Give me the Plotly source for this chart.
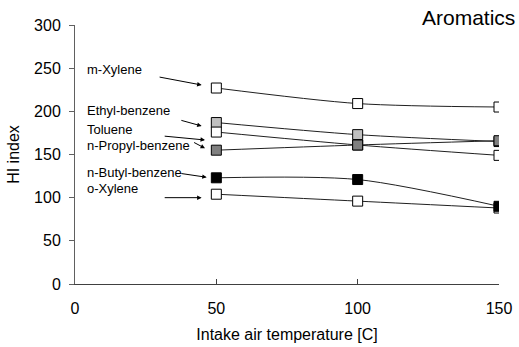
import plotly.graph_objects as go

temps = [50, 100, 150]
m_xylene = [227, 209, 205]
ethyl_benzene = [187, 173, 165]
toluene = [176, 161, 149]
o_xylene = [104, 96, 88]
n_propyl_benzene = [155, 161, 166]
n_butyl_benzene = [123, 121, 90]

series = [
    ("m-Xylene", m_xylene, "white"),
    ("Ethyl-benzene", ethyl_benzene, "#c0c0c0"),
    ("Toluene", toluene, "white"),
    ("o-Xylene", o_xylene, "white"),
    ("n-Propyl-benzene", n_propyl_benzene, "#808080"),
    ("n-Butyl-benzene", n_butyl_benzene, "black"),
]

FONT = "Liberation Sans, Arial, sans-serif"
fig = go.Figure()
for name, vals, col in series:
    fig.add_trace(go.Scatter(
        x=temps, y=vals, name=name, mode="lines+markers",
        line=dict(color="#202020", width=1, shape="spline", smoothing=0.8),
        marker=dict(symbol="square", size=10, color=col, line=dict(color="black", width=1)),
        showlegend=False,
    ))

# label text: (text, text_x, text_y, tail_x, tail_y, head_x, head_y)
labels = [
    ("m-Xylene", 3.5, 248, 29.4, 240, 44.8, 230.5),
    ("Ethyl-benzene", 3.5, 201.5, 37.1, 190, 44.8, 183),
    ("Toluene", 3.5, 179.5, 31.2, 171.4, 46.0, 166.8),
    ("n-Propyl-benzene", 3.5, 161, 41.6, 164.8, 46.0, 157.2),
    ("n-Butyl-benzene", 3.5, 129, 37.1, 128.2, 46.6, 123.6),
    ("o-Xylene", 3.5, 111, 31.2, 100, 44.8, 100),
]
for t, tx, ty, ax_, ay_, hx, hy in labels:
    fig.add_annotation(x=tx, y=ty, text=t, showarrow=False, xanchor="left", yanchor="middle",
                       font=dict(size=13, color="black", family=FONT))
    fig.add_annotation(x=hx, y=hy, ax=ax_, ay=ay_, xref="x", yref="y", axref="x", ayref="y",
                       text="", showarrow=True, arrowhead=2, arrowsize=0.9, arrowwidth=1,
                       arrowcolor="black")

fig.add_annotation(x=1.042, y=1.03, xref="paper", yref="paper", text="Aromatics",
                   showarrow=False, xanchor="right", yanchor="middle",
                   font=dict(size=21, color="black", family=FONT))

fig.update_layout(
    width=519, height=347,
    margin=dict(l=75, r=20, t=25, b=63),
    plot_bgcolor="white", paper_bgcolor="white",
    font=dict(family=FONT, color="black", size=16),
)
fig.update_xaxes(range=[0, 150], tickvals=[0, 50, 100, 150], showgrid=False, zeroline=False,
                 showline=True, linecolor="#404040", linewidth=1, automargin=False,
                 ticks="inside", ticklen=5, tickcolor="#404040", ticklabelstandoff=10,
                 title=dict(text="Intake air temperature [C]", font=dict(size=16), standoff=12),
                 tickfont=dict(size=16))
fig.update_yaxes(range=[0, 300], tickvals=[0, 50, 100, 150, 200, 250, 300], showgrid=False,
                 zeroline=False, showline=True, linecolor="#606060", linewidth=1, automargin=False,
                 ticks="outside", ticklen=5, tickcolor="#606060", ticklabelstandoff=5,
                 title=dict(text="HI index", font=dict(size=16), standoff=10),
                 tickfont=dict(size=16))

fig.write_html("out.html", config={"displayModeBar": False},
               post_script="document.body.style.margin='0';document.body.style.overflow='hidden';")
